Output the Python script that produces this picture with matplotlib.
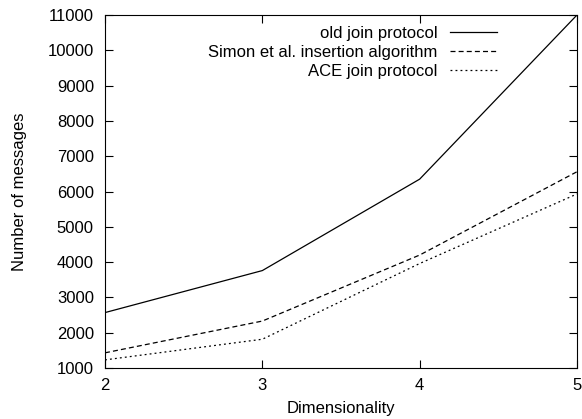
import matplotlib.pyplot as plt

plt.rcParams['font.family'] = ['Liberation Sans', 'DejaVu Sans']

dims = [2, 3, 4, 5]
old_join = [2570, 3760, 6350, 11000]
simon = [1430, 2330, 4200, 6560]
ace = [1230, 1815, 3960, 5930]

fig = plt.figure(figsize=(5.82, 4.19), dpi=100)
ax = fig.add_axes([0.1804, 0.1217, 0.811, 0.8425])

ax.plot(dims, old_join, color='black', lw=0.9, ls='-', label='old join protocol')
ax.plot(dims, simon, color='black', lw=0.9, ls=(0, (4, 2.5)), label='Simon et al. insertion algorithm')
ax.plot(dims, ace, color='black', lw=0.9, ls=(0, (1.5, 2.5)), label='ACE join protocol')

ax.set_xlim(2, 5)
ax.set_ylim(1000, 11000)
ax.set_xticks(dims)
ax.set_yticks(range(1000, 11001, 1000))
ax.tick_params(direction='in', top=True, right=True, labelsize=12, length=5.5)
ax.tick_params(axis='y', pad=8)
ax.tick_params(axis='x', pad=7)
ax.set_xlabel('Dimensionality', fontsize=12, labelpad=6)
ax.set_ylabel('Number of messages', fontsize=12, labelpad=15)

leg = ax.legend(loc='upper right', bbox_to_anchor=(0.8305, 0.968), frameon=False, fontsize=12,
                markerfirst=False, handlelength=2.8, handletextpad=0.75, labelspacing=0.22,
                borderaxespad=0, borderpad=0)

fig.savefig('out.png', dpi=100)
